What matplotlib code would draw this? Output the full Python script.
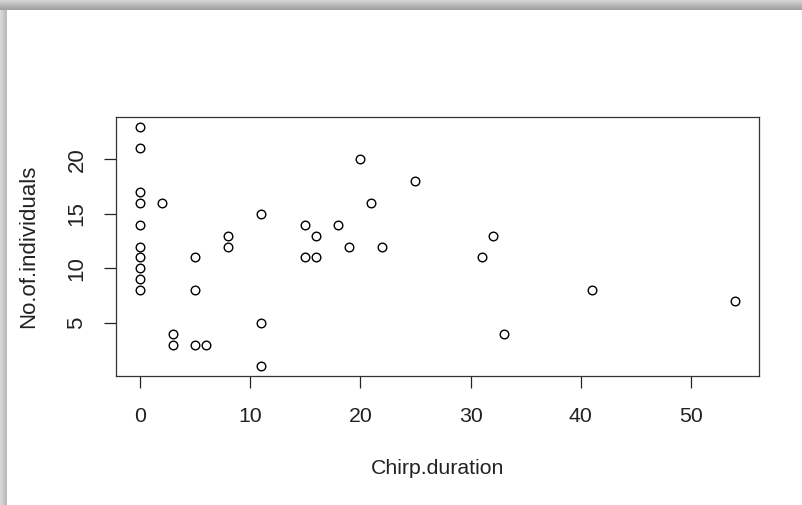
import numpy as np
import matplotlib
matplotlib.use("Agg")
import matplotlib.pyplot as plt

# ---- data ----
chirp_duration = [0, 0, 0, 0, 0, 0, 0, 0, 0, 0,
                  2, 3, 3, 5, 5, 5, 6, 8, 8,
                  11, 11, 11, 15, 15, 16, 16, 18, 19, 20,
                  21, 22, 25, 31, 32, 33, 41, 54]
no_of_individuals = [23, 21, 17, 16, 14, 12, 11, 10, 9, 8,
                     16, 4, 3, 11, 8, 3, 3, 13, 12,
                     15, 5, 1, 14, 11, 13, 11, 14, 12, 20,
                     16, 12, 18, 11, 13, 4, 8, 7]
x_ticks = [0, 10, 20, 30, 40, 50]
y_ticks = [5, 10, 15, 20]
x_label = "Chirp.duration"
y_label = "No.of.individuals"

plt.rcParams['font.family'] = ['Liberation Sans', 'DejaVu Sans']

W, H = 802, 505
fig = plt.figure(figsize=(W / 100, H / 100), dpi=100)

# ---- screenshot shadow frame (decoration) ----
bg = fig.add_axes([0, 0, 1, 1], zorder=-10)
bg.set_xlim(0, W)
bg.set_ylim(H, 0)
bg.axis('off')
top_h, left_w = 10, 7
top = np.linspace(0.84, 0.62, 30).reshape(-1, 1) * np.ones((1, 2))
bg.imshow(np.dstack([top] * 3), extent=(0, W, top_h, 0), aspect='auto',
          interpolation='bilinear', vmin=0, vmax=1)
left = np.linspace(0.86, 0.72, 30).reshape(1, -1) * np.ones((2, 1))
bg.imshow(np.dstack([left] * 3), extent=(0, left_w, H, top_h), aspect='auto',
          interpolation='bilinear', vmin=0, vmax=1)
bg.set_xlim(0, W)
bg.set_ylim(H, 0)

# ---- main plot ----
ax_left, ax_right = 116 / W, 759 / W
ax_top, ax_bottom = 117 / H, 376 / H
ax = fig.add_axes([ax_left, 1 - ax_bottom, ax_right - ax_left, ax_bottom - ax_top])
ax.plot(chirp_duration, no_of_individuals, linestyle='none', marker='o',
        markersize=6.2, markerfacecolor='none', markeredgecolor='black',
        markeredgewidth=1.0)

xmin, xmax = min(chirp_duration), max(chirp_duration)
ymin, ymax = min(no_of_individuals), max(no_of_individuals)
dx, dy = (xmax - xmin) * 0.04, (ymax - ymin) * 0.04
ax.set_xlim(xmin - dx, xmax + dx)
ax.set_ylim(ymin - dy, ymax + dy)

ax.set_xticks(x_ticks)
ax.set_yticks(y_ticks)
ax.set_xticklabels([str(t) for t in x_ticks])
ax.set_yticklabels([str(t) for t in y_ticks], rotation=90, va='center')
ax.tick_params(axis='both', direction='out', length=8.5, width=0.9,
               color='#222222', labelcolor='#222222')
ax.tick_params(axis='x', pad=13.5, labelsize=15.3)
ax.tick_params(axis='y', pad=12, labelsize=16)
for s in ax.spines.values():
    s.set_linewidth(0.9)
    s.set_color('#333333')

ax.set_xlabel(x_label, fontsize=15.3, color='#222222', labelpad=24)
ax.set_ylabel(y_label, fontsize=16, color='#222222', labelpad=20)

fig.savefig("out.png", dpi=100, facecolor='white')
